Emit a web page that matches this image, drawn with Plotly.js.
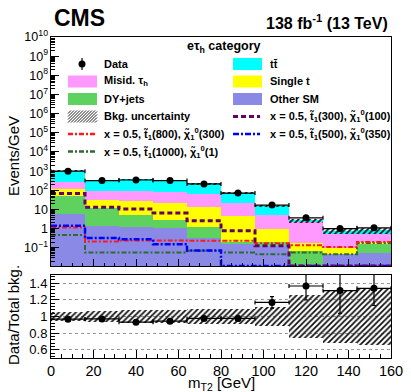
<!DOCTYPE html>
<html>
<head>
<meta charset="utf-8">
<script src="https://cdn.plot.ly/plotly-3.0.1.min.js"></script>
<style>body{margin:0;background:#fff;} #fig{width:411px;height:392px;}</style>
</head>
<body>
<div id="fig"></div>
<script>
// mT2 bins [GeV]
var binEdges = [0, 16, 32, 48, 64, 80, 96, 112, 128, 144, 160];
var binCenters = [8, 24, 40, 56, 72, 88, 104, 120, 136, 152];
var binHalf = [8, 8, 8, 8, 8, 8, 8, 8, 8, 8];

// backgrounds, events/GeV (stack order bottom -> top)
var otherSM   = [5.8, 1.3, 1.2, 1.07, 0.34, 0.155, 0.126, 0.004, 0.046, 0.056];
var dyJets    = [46, 10.4, 4.1, 1.9, 0.81, 0.045, 0.064, 0.065, 0.001, 0.1];
var singleTop = [65, 19, 24, 20, 13, 4.5, 0.74, 0.1, 0.055, 0.045];
var misidTau  = [143, 56, 66, 62, 50, 18, 4.4, 2.1, 0.41, 0.31];
var ttbar     = [773, 243, 275, 254, 156, 51, 9.2, 0.4, 0.25, 0.31];
var bkgUncRel = [0.05, 0.065, 0.08, 0.08, 0.09, 0.09, 0.11, 0.26, 0.32, 0.34];

// data
var data    = [1000, 320, 345, 320, 215, 72, 17, 3.65, 1.0, 1.1];
var dataErr = [8, 4.5, 4.6, 4.5, 3.7, 2.1, 1.0, 0.45, 0.21, 0.17];

// signals (0 = nothing in bin)
var sig300_100  = [69, 13, 10.5, 6.5, 2.6, 0.78, 0.126, 0, 0, 0];
var sig500_350  = [1.4, 0.32, 0.28, 0.155, 0.072, 0, 0, 0, 0, 0];
var sig800_300  = [1.15, 0.21, 0.24, 0.24, 0.23, 0.23, 0.17, 0.135, 0.11, 0.2];
var sig1000_1   = [0.46, 0.056, 0.056, 0.056, 0.069, 0.056, 0.046, 0.056, 0.046, 0.18];

var yMin = 0.0112;
var FONT = 'Liberation Sans, Arial, sans-serif';

var C_TT = '#00ffff', C_MIS = '#ff99ff', C_ST = '#ffff00', C_DY = '#5ed15e', C_OTH = '#8a8ae6';
var C_S300 = '#660066', C_S500 = '#0000ff', C_S800 = '#ff1a1a', C_S1000 = '#2f6b2f';

// stack
var stackVals = [otherSM, dyJets, singleTop, misidTau, ttbar];
var stackCols = [C_OTH, C_DY, C_ST, C_MIS, C_TT];
var cum = [], run = binCenters.map(function(){return 0;});
for (var k = 0; k < stackVals.length; k++) {
  run = run.map(function(v, i){ return v + stackVals[k][i]; });
  cum.push(run.slice());
}
var total = cum[cum.length - 1];

var traces = [];
for (var k = cum.length - 1; k >= 0; k--) {
  traces.push({type: 'bar', x: binCenters, y: cum[k], width: 16,
    marker: {color: stackCols[k], line: {width: 0}},
    xaxis: 'x', yaxis: 'y', hoverinfo: 'skip', showlegend: false});
}

var hatch = {shape: '/', fgcolor: '#111', bgcolor: 'rgba(255,255,255,0)', size: 4, solidity: 0.45};
traces.push({type: 'bar', x: binCenters,
  base: total.map(function(t, i){ return t * (1 - bkgUncRel[i]); }),
  y: total.map(function(t, i){ return t * 2 * bkgUncRel[i]; }),
  width: 16, marker: {color: 'rgba(255,255,255,0)', line: {width: 0}, pattern: hatch},
  xaxis: 'x', yaxis: 'y', hoverinfo: 'skip', showlegend: false});

function stepTrace(vals, color, dash, w) {
  var y = vals.map(function(v){ return v > 0 ? v : yMin; });
  y.push(y[y.length - 1]);
  return {type: 'scatter', mode: 'lines', x: binEdges, y: y,
    line: {shape: 'hv', color: color, dash: dash, width: w},
    xaxis: 'x', yaxis: 'y', hoverinfo: 'skip', showlegend: false, cliponaxis: true};
}
traces.push(stepTrace(sig1000_1, C_S1000, '5px,2px,2px,2px', 2));
traces.push(stepTrace(sig800_300, C_S800, '5px,2px,2px,2px', 2));
traces.push(stepTrace(sig500_350, C_S500, '6px,2px,2px,2px', 2.5));
traces.push(stepTrace(sig300_100, C_S300, '5px,3px', 3));

traces.push({type: 'scatter', mode: 'markers', x: binCenters, y: data,
  marker: {color: '#000', size: 7},
  error_y: {type: 'data', array: dataErr, color: '#000', thickness: 1.2, width: 2},
  error_x: {type: 'data', array: binHalf, color: '#000', thickness: 1.2, width: 2},
  xaxis: 'x', yaxis: 'y', hoverinfo: 'skip', showlegend: false});

// ratio panel
var ratio = data.map(function(d, i){ return d / total[i]; });
var ratioErr = dataErr.map(function(e, i){ return e / total[i]; });
traces.push({type: 'bar', x: binCenters,
  base: bkgUncRel.map(function(u){ return 1 - u; }),
  y: bkgUncRel.map(function(u){ return 2 * u; }),
  width: 16, marker: {color: 'rgba(255,255,255,0)', line: {width: 0}, pattern: hatch},
  xaxis: 'x2', yaxis: 'y2', hoverinfo: 'skip', showlegend: false});
traces.push({type: 'scatter', mode: 'markers', x: binCenters, y: ratio,
  marker: {color: '#000', size: 7},
  error_y: {type: 'data', array: ratioErr, color: '#000', thickness: 1.2, width: 2},
  error_x: {type: 'data', array: binHalf, color: '#000', thickness: 1.2, width: 2},
  xaxis: 'x2', yaxis: 'y2', hoverinfo: 'skip', showlegend: false});

// pixel -> paper helpers
var L = 51, R = 391, T = 37, B = 358;
function px(x){ return (x - L) / (R - L); }
function py(y){ return (B - y) / (B - T); }

var shapes = [], annotations = [];
function txt(x, y, text, size, opts) {
  var a = {xref: 'paper', yref: 'paper', x: px(x), y: py(y), text: text, showarrow: false,
    xanchor: 'left', yanchor: 'middle', font: {family: FONT, size: size, color: '#000'}};
  for (var key in (opts || {})) a[key] = opts[key];
  annotations.push(a);
}
function box(x0, yc, color) {
  shapes.push({type: 'rect', xref: 'paper', yref: 'paper', x0: px(x0), x1: px(x0 + 29),
    y0: py(yc + 6), y1: py(yc - 6), fillcolor: color, line: {width: 0}});
}
function lineSw(x0, yc, color, dash, w) {
  shapes.push({type: 'line', xref: 'paper', yref: 'paper', x0: px(x0), x1: px(x0 + 27),
    y0: py(yc), y1: py(yc), line: {color: color, dash: dash, width: w}});
}
function hatchSw(x0, yc) {
  var x1 = x0 + 29, yb = yc + 6, path = '';
  for (var k = -12; k < 29; k += 3) {
    var xa = x0 + k, xs = Math.max(xa, x0), xe = Math.min(xa + 12, x1);
    if (xe <= xs) continue;
    path += 'M' + px(xs) + ',' + py(yb - (xs - xa)) + 'L' + px(xe) + ',' + py(yb - (xe - xa));
  }
  shapes.push({type: 'path', xref: 'paper', yref: 'paper', path: path, line: {color: '#222', width: 1}});
}

var lx = 68, rx = 233, rows = [64, 81.5, 99, 116.5, 134, 151.5];
var chi = 'χ̃<sub>1</sub><sup>0</sup>', st = 't̃<sub>1</sub>';
var LF = 11;
// Data symbol
shapes.push({type: 'line', xref: 'paper', yref: 'paper', x0: px(lx + 14), x1: px(lx + 14),
  y0: py(rows[0] - 6), y1: py(rows[0] + 6), line: {color: '#000', width: 1.2}});
shapes.push({type: 'circle', xref: 'paper', yref: 'paper', x0: px(lx + 10.5), x1: px(lx + 17.5),
  y0: py(rows[0] + 3.5), y1: py(rows[0] - 3.5), fillcolor: '#000', line: {width: 0}});
txt(lx + 34, rows[0], '<b>Data</b>', LF);
box(lx, rows[1], C_MIS); txt(lx + 34, rows[1], '<b>Misid. τ<sub>h</sub></b>', LF);
box(lx, rows[2], C_DY); txt(lx + 34, rows[2], '<b>DY+jets</b>', LF);
hatchSw(lx, rows[3]); txt(lx + 34, rows[3], '<b>Bkg. uncertainty</b>', LF);
lineSw(lx, rows[4], C_S800, '5px,2px,2px,2px', 2.5);
txt(lx + 34, rows[4], '<b>x = 0.5, ' + st + '(800), ' + chi + '(300)</b>', LF);
lineSw(lx, rows[5], C_S1000, '5px,2px,2px,2px', 2.5);
txt(lx + 34, rows[5], '<b>x = 0.5, ' + st + '(1000), ' + chi + '(1)</b>', LF);

box(rx, rows[0], C_TT); txt(rx + 35, rows[0], '<b>tt̄</b>', LF);
box(rx, rows[1], C_ST); txt(rx + 35, rows[1], '<b>Single t</b>', LF);
box(rx, rows[2], C_OTH); txt(rx + 35, rows[2], '<b>Other SM</b>', LF);
lineSw(rx, rows[3], C_S300, '5px,3px', 3);
txt(rx + 35, rows[3], '<b>x = 0.5, ' + st + '(300), ' + chi + '(100)</b>', LF);
lineSw(rx, rows[4], C_S500, '6px,2px,2px,2px', 2.5);
txt(rx + 35, rows[4], '<b>x = 0.5, ' + st + '(500), ' + chi + '(350)</b>', LF);

txt(224, 47, '<b>eτ<sub>h</sub> category</b>', 12.5, {xanchor: 'center'});
txt(52, 18, '<b>CMS</b>', 23);
txt(390, 22, '<b>138 fb<sup>-1</sup> (13 TeV)</b>', 16, {xanchor: 'right'});
txt(13, 156, 'Events/GeV', 15, {xanchor: 'center', textangle: -90});
txt(13, 315, 'Data/Total bkg.', 15, {xanchor: 'center', textangle: -90});
txt(221, 383.5, 'm<sub>T2</sub> [GeV]', 15, {xanchor: 'center'});

var axCommon = {showline: true, linecolor: '#000', linewidth: 1, mirror: true,
  zeroline: false, showgrid: false, ticks: 'inside', tickcolor: '#000'};

var layout = {
  width: 411, height: 392,
  margin: {l: L, r: 411 - R, t: T, b: 392 - B},
  paper_bgcolor: '#fff', plot_bgcolor: '#fff',
  barmode: 'overlay', bargap: 0, showlegend: false,
  font: {family: FONT, color: '#000'},
  xaxis: Object.assign({}, axCommon, {domain: [0, 1], anchor: 'y', range: [0, 160],
    dtick: 20, tick0: 0, ticklen: 7, showticklabels: false,
    minor: {ticks: 'inside', ticklen: 3.5, dtick: 5, tickcolor: '#000'}}),
  yaxis: Object.assign({}, axCommon, {domain: [py(266), 1], anchor: 'x', type: 'log',
    range: [Math.log10(yMin), 10], dtick: 1, exponentformat: 'power', ticklen: 8,
    tickfont: {family: FONT, size: 10, color: '#000'},
    minor: {ticks: 'inside', ticklen: 4, tickcolor: '#000'}}),
  xaxis2: Object.assign({}, axCommon, {domain: [0, 1], anchor: 'y2', range: [0, 160],
    dtick: 20, tick0: 0, ticklen: 8, ticklabelstandoff: 0,
    tickfont: {family: FONT, size: 14.5, color: '#000'},
    minor: {ticks: 'inside', ticklen: 4, dtick: 5, tickcolor: '#000'}}),
  yaxis2: Object.assign({}, axCommon, {domain: [0, py(275)], anchor: 'x2',
    range: [0.5, 1.5], dtick: 0.2, tick0: 0, ticklen: 8,
    showgrid: true, gridcolor: '#999', griddash: 'dot', gridwidth: 1,
    tickfont: {family: FONT, size: 13, color: '#000'},
    minor: {ticks: 'inside', ticklen: 4, dtick: 0.04, tickcolor: '#000'}}),
  shapes: shapes,
  annotations: annotations
};

Plotly.newPlot('fig', traces, layout, {displayModeBar: false, staticPlot: true});
</script>
</body>
</html>
